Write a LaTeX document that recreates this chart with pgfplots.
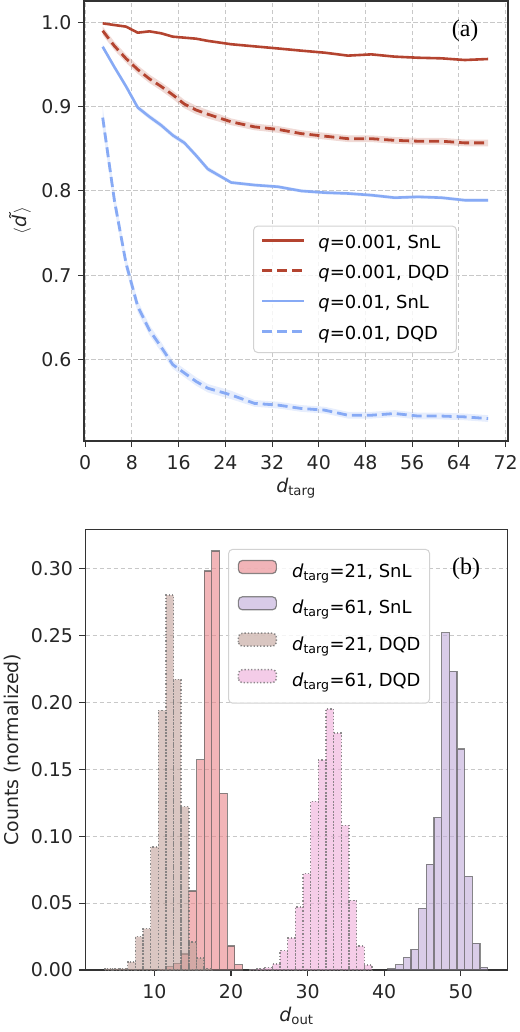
\documentclass[border=0pt]{standalone}
\usepackage{fontspec}
\setmainfont{DejaVu Sans}
\newfontfamily\seriffont{Liberation Serif}
\usepackage{pgfplots}
\pgfplotsset{compat=1.18}
\usepackage{pgfplotstable}
\usepgfplotslibrary{fillbetween}

\definecolor{cred}{RGB}{180,68,48}
\definecolor{cblue}{RGB}{135,170,245}
\definecolor{snlA}{RGB}{233,132,137}
\definecolor{snlB}{RGB}{192,170,217}
\definecolor{dqdA}{RGB}{193,160,153}
\definecolor{dqdB}{RGB}{238,172,217}
\definecolor{gridc}{RGB}{200,200,200}
\definecolor{legc}{RGB}{210,210,210}

\pgfplotstableread{
x a b eb c ec d ed
3 0.9988 0.990 0.005 0.971 0.003 0.887 0.013
5 0.9968 0.972 0.005 0.947 0.003 0.789 0.010
7 0.9949 0.957 0.005 0.924 0.003 0.714 0.008
9 0.9877 0.944 0.005 0.899 0.003 0.663 0.007
11 0.9893 0.933 0.005 0.888 0.003 0.635 0.006
13 0.9870 0.924 0.005 0.878 0.003 0.615 0.006
15 0.9830 0.914 0.005 0.866 0.003 0.594 0.005
17 0.9818 0.903 0.005 0.857 0.003 0.584 0.005
19 0.9806 0.896 0.005 0.842 0.003 0.574 0.005
21 0.9780 0.891 0.005 0.826 0.003 0.566 0.005
25 0.9740 0.882 0.004 0.810 0.002 0.558 0.005
29 0.9715 0.876 0.004 0.807 0.002 0.548 0.004
33 0.9690 0.873 0.004 0.805 0.002 0.546 0.004
37 0.9664 0.868 0.004 0.800 0.002 0.542 0.004
41 0.9640 0.865 0.004 0.798 0.002 0.540 0.004
45 0.9605 0.862 0.004 0.797 0.002 0.534 0.004
49 0.9620 0.862 0.004 0.795 0.002 0.534 0.004
53 0.9593 0.860 0.004 0.792 0.002 0.536 0.004
57 0.9580 0.859 0.004 0.793 0.002 0.533 0.004
61 0.9573 0.859 0.004 0.792 0.002 0.533 0.004
65 0.9553 0.857 0.004 0.789 0.002 0.532 0.004
69 0.9565 0.857 0.004 0.789 0.002 0.530 0.004
}\curves

\pgfplotsset{
  mystyle/.style={
    scale only axis,
    axis line style={line width=1.3bp, draw=black!80},
    tick style={line width=1.1bp, draw=black!80},
    tick align=outside,
    major tick length=6bp,
    xtick pos=lower, ytick pos=left,
    /pgf/number format/assume math mode=true,
    tick label style={font=\fontsize{19}{21}\selectfont, text=black!85},
    xticklabel style={yshift=-5bp},
    yticklabel style={xshift=-3bp},
    label style={font=\fontsize{19}{21}\selectfont, text=black!85},
    major grid style={draw=gridc, line width=0.9bp, dash pattern=on 4.5bp off 2.5bp},
    legend cell align=left,
    legend style={font=\fontsize{18}{20}\selectfont, fill=white, fill opacity=0.8, text opacity=1,
      draw=legc, line width=1bp, rounded corners=4bp},
  },
  lineleg/.style={legend image code/.code={\draw[##1] (0bp,0.35em) -- (42bp,0.35em);}},
  barleg/.style={legend image code/.code={\draw[##1] (0bp,0.05em) rectangle (38bp,0.05em+13bp);}},
}

\begin{document}
\begin{tikzpicture}

\begin{axis}[mystyle,
  at={(84bp,-1bp)}, anchor=north west,
  width=424bp, height=440bp,
  xmin=-0.2, xmax=72.4, ymin=0.5034, ymax=1.0253,
  xtick={0,8,16,24,32,40,48,56,64,72},
  ytick={0.6,0.7,0.8,0.9,1.0},
  yticklabel style={/pgf/number format/.cd, fixed, fixed zerofill, precision=1},
  grid=major,
  xlabel={{\itshape d}\textsubscript{targ}},
  ylabel={$\langle$\kern1bp{\itshape\~d}\kern1bp$\rangle$},
  xlabel style={at={(axis description cs:0.5,-0.107)}, anchor=center},
  ylabel style={at={(axis description cs:-0.151,0.5)}, anchor=center},
  legend style={at={(0.399,0.2)}, anchor=south west, inner xsep=7bp, inner ysep=9bp,
    column sep=13bp, row sep=12.8bp,
    nodes={inner sep=0pt, text height=13bp, text depth=4.5bp}},
  lineleg,
]
\addplot[name path=bu, draw=none, forget plot] table[x=x, y expr=\thisrow{b}+\thisrow{eb}] {\curves};
\addplot[name path=bl, draw=none, forget plot] table[x=x, y expr=\thisrow{b}-\thisrow{eb}] {\curves};
\addplot[fill=cred, fill opacity=0.2, draw=none, forget plot] fill between[of=bu and bl];
\addplot[name path=cu, draw=none, forget plot] table[x=x, y expr=\thisrow{c}+\thisrow{ec}] {\curves};
\addplot[name path=cl, draw=none, forget plot] table[x=x, y expr=\thisrow{c}-\thisrow{ec}] {\curves};
\addplot[fill=cblue, fill opacity=0.2, draw=none, forget plot] fill between[of=cu and cl];
\addplot[name path=du, draw=none, forget plot] table[x=x, y expr=\thisrow{d}+\thisrow{ed}] {\curves};
\addplot[name path=dl, draw=none, forget plot] table[x=x, y expr=\thisrow{d}-\thisrow{ed}] {\curves};
\addplot[fill=cblue, fill opacity=0.2, draw=none, forget plot] fill between[of=du and dl];

\addplot[cred, line width=2.6bp, line join=round] table[x=x, y=a] {\curves};
\addlegendentry{{\itshape q}=0.001, SnL}
\addplot[cred, line width=2.8bp, dash pattern=on 10bp off 5bp] table[x=x, y=b] {\curves};
\addlegendentry{{\itshape q}=0.001, DQD}
\addplot[cblue, line width=2.6bp, line join=round] table[x=x, y=c] {\curves};
\addlegendentry{{\itshape q}=0.01, SnL}
\addplot[cblue, line width=2.8bp, dash pattern=on 10bp off 5bp] table[x=x, y=d] {\curves};
\addlegendentry{{\itshape q}=0.01, DQD}

\node[font=\seriffont\fontsize{24}{24}\selectfont, text=black] at (rel axis cs:0.899,0.932) {(a)};
\end{axis}

\begin{axis}[mystyle,
  at={(85.5bp,-529.5bp)}, anchor=north west,
  width=422bp, height=440.5bp,
  xmin=1, xmax=56.1, ymin=0, ymax=0.329,
  xtick={10,20,30,40,50},
  ytick={0,0.05,0.1,0.15,0.2,0.25,0.3},
  scaled y ticks=false,
  yticklabel style={/pgf/number format/.cd, fixed, fixed zerofill, precision=2},
  ymajorgrids,
  xlabel={{\itshape d}\textsubscript{out}},
  ylabel={Counts (normalized)},
  xlabel style={at={(axis description cs:0.5,-0.104)}, anchor=center},
  ylabel style={at={(axis description cs:-0.173,0.5)}, anchor=center},
  legend style={at={(0.338,0.956)}, anchor=north west, inner xsep=9bp, inner ysep=10.5bp,
    column sep=15bp, row sep=12.7bp,
    nodes={inner sep=0pt, text height=13bp, text depth=6bp}},
  barleg,
]
\addplot[ybar, bar width=1, bar shift=0pt, fill=snlA, fill opacity=0.6, draw=black!65, draw opacity=0.7, line width=1.2bp]
coordinates {(11,0.0005) (12,0.0025) (13,0.005) (14,0.012) (15,0.059) (16,0.157) (17,0.298) (18,0.313) (19,0.132) (20,0.018) (21,0.004)};
\addlegendentry{{\itshape d}\textsubscript{targ}=21, SnL}
\addplot[ybar, bar width=1, bar shift=0pt, fill=snlB, fill opacity=0.6, draw=black!65, draw opacity=0.7, line width=1.2bp]
coordinates {(41,0.001) (42,0.004) (43,0.0095) (44,0.0154) (45,0.046) (46,0.079) (47,0.114) (48,0.252) (49,0.223) (50,0.165) (51,0.070) (52,0.020) (53,0.002)};
\addlegendentry{{\itshape d}\textsubscript{targ}=61, SnL}
\addplot[ybar, bar width=1, bar shift=0pt, fill=dqdA, fill opacity=0.6, draw=black!55, draw opacity=0.8, line width=1.5bp, dash pattern=on 1.3bp off 2bp]
coordinates {(4,0.001) (5,0.001) (6,0.001) (7,0.006) (8,0.025) (9,0.031) (10,0.092) (11,0.194) (12,0.280) (13,0.217) (14,0.122) (15,0.021) (16,0.009) (17,0.001)};
\addlegendentry{{\itshape d}\textsubscript{targ}=21, DQD}
\addplot[ybar, bar width=1, bar shift=0pt, fill=dqdB, fill opacity=0.6, draw=black!55, draw opacity=0.8, line width=1.5bp, dash pattern=on 1.3bp off 2bp]
coordinates {(22.9,0.0005) (23.9,0.001) (24.9,0.0017) (25.9,0.0045) (26.9,0.0144) (27.9,0.024) (28.9,0.047) (29.9,0.072) (30.9,0.126) (31.9,0.157) (32.9,0.195) (33.9,0.177) (34.9,0.108) (35.9,0.052) (36.9,0.018) (37.9,0.0037)};
\addlegendentry{{\itshape d}\textsubscript{targ}=61, DQD}

\node[font=\seriffont\fontsize{24}{24}\selectfont, text=black] at (rel axis cs:0.902,0.910) {(b)};
\end{axis}

\pgfresetboundingbox
\path[use as bounding box] (0,0) rectangle (520bp,-1032bp);
\end{tikzpicture}
\end{document}
